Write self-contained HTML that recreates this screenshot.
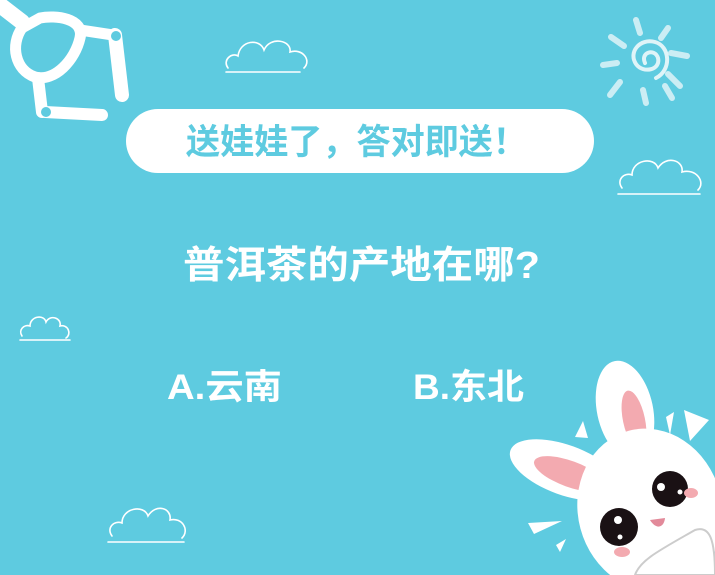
<!DOCTYPE html>
<html><head><meta charset="utf-8"><style>
html,body{margin:0;padding:0;width:715px;height:575px;overflow:hidden;background:#5ecbe0}
svg{display:block;overflow:hidden}
text{font-family:"Liberation Sans","Noto Sans CJK SC",sans-serif;font-weight:bold}
</style></head><body>
<svg width="715" height="575" viewBox="0 0 715 575">
<rect width="715" height="575" fill="#5ecbe0"/>
<g fill="none" stroke="#fff" stroke-linecap="round" stroke-linejoin="round">
 <path d="M0 5 L22 22" stroke-width="16"/>
 <path d="M22 28 C10 45 15 70 35 77 C55 82 75 60 80 38 C85 18 55 15 40 18 Z" stroke-width="11"/>
 <path d="M80 30 L113 35" stroke-width="11"/>
 <path d="M115 35 L122 95" stroke-width="14"/>
 <path d="M38 78 L42 112" stroke-width="12"/>
 <path d="M45 112 L102 115" stroke-width="12"/>
 <circle cx="116" cy="36" r="5" fill="#5ecbe0" stroke="none"/>
 <circle cx="46" cy="112" r="5" fill="#5ecbe0" stroke="none"/>
</g>
<g fill="none" stroke="#dff4f8" stroke-linecap="round">
 <path d="M645 63 C640 52 655 48 658 58 C661 70 643 74 636 64 C628 52 640 38 655 42 C670 46 672 70 656 78" stroke-width="4"/>
 <g stroke-width="6" opacity="0.85">
  <path d="M636 20 L640 33"/><path d="M668 28 L661 38"/><path d="M611 37 L624 46"/>
  <path d="M671 53 L687 56"/><path d="M603 65 L617 63"/><path d="M668 74 L680 86"/>
  <path d="M620 82 L610 95"/><path d="M643 90 L646 103"/><path d="M665 86 L672 98"/>
 </g>
</g>
<g fill="none" stroke="#fff" stroke-width="1.6" stroke-linecap="round">
 <path d="M228 68 C222 60 232 52 238 56 C240 40 260 38 264 50 C270 36 292 40 290 52 C302 48 312 60 304 68"/><path d="M226 72 L300 72"/>
 <path d="M622 188 C616 180 624 172 632 175 C632 160 654 156 658 168 C666 155 684 160 682 172 C696 168 706 182 698 190"/><path d="M618 194 L700 194"/>
 <path d="M22 336 C18 330 24 324 30 326 C30 316 44 314 46 322 C50 314 62 318 60 326 C68 324 72 334 66 338"/><path d="M20 340 L70 340"/>
 <path d="M112 536 C106 528 114 520 122 523 C122 508 144 504 148 516 C156 503 172 508 170 520 C182 517 190 530 182 538"/><path d="M108 542 L184 542"/>
</g>
<rect x="126" y="109" width="468" height="64" rx="32" fill="#fff"/>
<text x="186" y="154" textLength="341" lengthAdjust="spacingAndGlyphs" font-size="35" fill="#5ecbe0">送娃娃了，答对即送！</text>
<text x="183" y="278" textLength="357" lengthAdjust="spacingAndGlyphs" font-size="38" fill="#fff">普洱茶的产地在哪?</text>
<text x="167" y="399" textLength="115" lengthAdjust="spacingAndGlyphs" font-size="35" fill="#fff">A.云南</text>
<text x="413" y="399" textLength="111" lengthAdjust="spacingAndGlyphs" font-size="35" fill="#fff">B.东北</text>
<g>
 <g fill="#fff">
  <path d="M575 437 L583 421 L588 438 Z"/><path d="M684 410 L709 420 L690 441 Z"/>
  <path d="M528 523 L562 521 L534 534 Z"/><path d="M556 545 L566 539 L560 552 Z"/>
 </g>
 <path d="M666 417 L674 412 L670 435 Z" fill="#fff"/>
 <ellipse cx="625" cy="410" rx="28" ry="50" transform="rotate(-12 625 410)" fill="#fff"/>
 <ellipse cx="634" cy="420" rx="11" ry="30" transform="rotate(-12 634 420)" fill="#f3aab0"/>
 <ellipse cx="565" cy="470" rx="58" ry="25" transform="rotate(20 565 470)" fill="#fff"/>
 <ellipse cx="570" cy="474" rx="38" ry="13" transform="rotate(20 570 474)" fill="#f3aab0"/>
 <ellipse cx="650" cy="510" rx="72" ry="82" transform="rotate(-15 650 510)" fill="#fff"/>
 <circle cx="670" cy="489" r="18" fill="#1a1114"/>
 <circle cx="661" cy="487" r="4" fill="#fff"/><circle cx="680" cy="492" r="2.5" fill="#fff"/>
 <circle cx="619" cy="527" r="19" fill="#1a1114"/>
 <circle cx="618" cy="520" r="4" fill="#fff"/><circle cx="620" cy="537" r="2.5" fill="#fff"/>
 <ellipse cx="691" cy="493" rx="7" ry="5" fill="#f3aab0"/>
 <ellipse cx="622" cy="552" rx="8" ry="5" fill="#f3aab0"/>
 <path d="M650 520 C656 530 664 528 665 518 Z" fill="#e28a9a"/>
 <path d="M635 575 C640 560 660 550 695 530 C710 525 715 540 715 575 Z" fill="#fff" stroke="#ccc" stroke-width="2"/>
</g>
</svg>
</body></html>
